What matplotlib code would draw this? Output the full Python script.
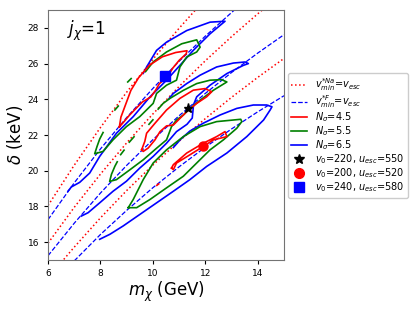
import numpy as np
import matplotlib
matplotlib.use("Agg")
import matplotlib.pyplot as plt

# v_min = v_esc curves (m in GeV, delta in keV)
m_na1 = [6.0, 7.0, 8.0, 9.0, 10.0, 11.0, 11.7]
d_na1 = [18.05, 20.31, 22.42, 24.40, 26.24, 27.98, 29.13]
m_na2 = [6.0, 7.0, 8.0, 9.0, 10.0, 11.0, 12.0, 13.0, 14.0, 14.3]
d_na2 = [15.94, 17.95, 19.81, 21.56, 23.18, 24.72, 26.16, 27.51, 28.79, 29.16]
m_na3 = [6.5, 7.0, 8.0, 9.0, 10.0, 11.0, 12.0, 13.0, 14.0, 15.0]
d_na3 = [14.86, 15.72, 17.36, 18.89, 20.32, 21.66, 22.92, 24.11, 25.23, 26.29]
m_f1 = [6.0, 7.0, 8.0, 9.0, 10.0, 11.0, 12.0, 13.0, 13.2]
d_f1 = [17.26, 19.32, 21.22, 22.98, 24.61, 26.13, 27.54, 28.86, 29.12]
m_f2 = [6.0, 7.0, 8.0, 9.0, 10.0, 11.0, 12.0, 13.0, 14.0, 15.0]
d_f2 = [15.24, 17.06, 18.75, 20.30, 21.74, 23.08, 24.33, 25.50, 26.59, 27.62]
m_f3 = [7.0, 8.0, 9.0, 10.0, 11.0, 12.0, 13.0, 14.0, 15.0]
d_f3 = [14.95, 16.43, 17.78, 19.05, 20.22, 21.32, 22.34, 23.30, 24.20]

# contours (x, y) pairs; square halo = top group, star = middle, circle = bottom
sq_blue = [(9.63, 25.45), (9.76, 25.81), (10.14, 26.74), (10.52, 27.20), (11.29, 27.85),
           (12.18, 28.32), (12.75, 28.37), (12.18, 27.67), (11.54, 26.74), (11.03, 25.90),
           (10.52, 25.07), (9.89, 24.14), (9.25, 23.03), (8.61, 22.10), (7.97, 20.80),
           (7.59, 19.87), (7.21, 19.35), (6.89, 19.09), (6.76, 18.85)]
sq_green = [(9.72, 25.55), (10.01, 26.09), (10.52, 26.65), (11.10, 27.11), (11.67, 27.33),
            (11.80, 26.92), (11.67, 26.65), (11.29, 26.37), (11.03, 25.81), (10.90, 25.07),
            (10.52, 24.79), (10.14, 24.33), (10.01, 23.77), (9.50, 23.03), (8.99, 22.47),
            (8.48, 21.73), (8.10, 21.08), (7.78, 20.95), (7.87, 21.36), (7.97, 21.77),
            (8.10, 22.14)]
sq_green_bits = [[(8.55, 23.40), (8.68, 23.62)], [(9.04, 24.97), (9.17, 25.16)]]
sq_red = [(8.72, 22.45), (8.78, 23.00), (8.97, 23.75), (9.16, 24.50), (9.45, 25.20),
          (9.86, 25.90), (10.36, 26.38), (10.87, 26.62), (11.30, 26.72), (11.27, 26.55),
          (11.00, 26.18), (10.76, 25.75), (10.55, 25.25), (10.25, 24.88), (10.10, 24.50),
          (9.92, 24.13), (9.60, 23.85), (9.35, 23.48), (9.10, 23.10), (8.90, 22.75),
          (8.72, 22.45)]

st_blue = [(10.62, 24.05), (10.78, 24.33), (11.29, 24.88), (11.80, 25.35), (12.43, 25.81),
           (13.07, 26.03), (13.52, 26.09), (13.64, 26.00), (13.45, 25.90), (12.82, 25.44),
           (12.18, 24.79), (11.67, 24.14), (11.55, 23.70), (11.50, 22.95), (11.30, 22.60),
           (10.90, 22.19), (10.52, 21.54), (10.01, 20.80), (9.50, 20.15), (8.99, 19.41),
           (8.48, 18.85), (7.97, 18.20), (7.53, 17.65), (7.27, 17.46)]
st_green = [(10.20, 23.45), (10.39, 23.77), (10.65, 24.05), (11.16, 24.50), (11.67, 24.88),
            (12.18, 25.07), (12.62, 25.10), (12.82, 24.97), (12.31, 24.51), (11.80, 23.95),
            (11.35, 23.40), (11.16, 23.12), (10.90, 22.84), (10.71, 22.47), (10.52, 21.73),
            (10.14, 21.26), (9.63, 20.61), (9.12, 20.05), (8.61, 19.50), (8.35, 19.40),
            (8.42, 19.80), (8.55, 20.25), (8.64, 20.50)]
st_green_bits = [[(8.77, 20.90), (8.90, 21.15)], [(9.10, 21.60), (9.28, 21.90)],
                 [(9.85, 22.60), (10.00, 22.85)]]
st_red = [(9.57, 21.17), (9.69, 21.64), (9.76, 22.10), (10.08, 22.66), (10.52, 23.40),
          (11.03, 24.05), (11.54, 24.51), (11.99, 24.60), (12.24, 24.42), (12.05, 24.14),
          (11.67, 23.77), (11.29, 23.31), (10.97, 22.84), (10.78, 22.56), (10.52, 22.51),
          (10.27, 22.19), (10.08, 21.73), (9.82, 21.27), (9.63, 21.08), (9.57, 21.17)]

ci_blue = [(10.78, 21.30), (11.05, 21.75), (11.41, 22.22), (11.92, 22.66), (12.56, 23.12),
           (13.20, 23.49), (13.83, 23.68), (14.34, 23.68), (14.54, 23.58), (14.47, 23.40),
           (14.22, 22.84), (13.58, 21.91), (12.82, 20.99), (12.05, 20.24), (11.41, 19.50),
           (10.78, 18.85), (10.14, 18.20), (9.50, 17.55), (8.87, 16.91), (8.36, 16.44),
           (7.97, 16.16)]
ci_green = [(9.06, 17.93), (9.38, 17.93), (9.89, 18.39), (10.52, 19.04), (11.16, 19.69),
            (11.80, 20.62), (12.18, 21.17), (12.69, 21.73), (13.20, 22.38), (13.39, 22.75),
            (13.35, 22.88), (13.07, 22.84), (12.43, 22.75), (11.80, 22.47), (11.16, 21.91),
            (10.52, 21.17), (10.01, 20.43), (9.63, 19.50), (9.25, 18.39), (9.06, 17.93)]
ci_red = [(10.71, 20.15), (10.78, 20.34), (11.29, 20.99), (11.92, 21.54), (12.43, 21.91),
          (12.75, 22.19), (12.82, 21.91), (12.31, 21.73), (11.92, 21.36), (11.41, 20.89),
          (10.90, 20.43), (10.78, 20.06), (10.71, 20.15)]
ci_red_bits = [[(10.15, 19.18), (10.22, 19.26)]]

# benchmark points
star_pt = (11.35, 23.52)
circle_pt = (11.91, 21.36)
square_pt = (10.48, 25.32)

fig = plt.figure(figsize=(4.15, 3.09), dpi=100)
ax = fig.add_axes([0.1157, 0.1586, 0.5687, 0.809])

def xy(pts):
    a = np.array(pts)
    return a[:, 0], a[:, 1]

lw_c = 1.2
for mm, dd in [(m_na1, d_na1), (m_na2, d_na2), (m_na3, d_na3)]:
    ax.plot(mm, dd, color="red", ls=":", lw=1.1, zorder=1)
for mm, dd in [(m_f1, d_f1), (m_f2, d_f2), (m_f3, d_f3)]:
    ax.plot(mm, dd, color="blue", ls="--", lw=0.9, zorder=1)

for pts in [sq_blue, st_blue, ci_blue]:
    ax.plot(*xy(pts), color="blue", lw=lw_c, zorder=2)
for pts in [sq_green, st_green, ci_green] + sq_green_bits + st_green_bits:
    ax.plot(*xy(pts), color="green", lw=lw_c, zorder=3)
for pts in [sq_red, st_red, ci_red] + ci_red_bits:
    ax.plot(*xy(pts), color="red", lw=lw_c, zorder=4)

ax.plot(*star_pt, marker="*", color="black", ms=6.5, ls="none", zorder=5)
ax.plot(*circle_pt, marker="o", color="red", ms=6.5, ls="none", zorder=5)
ax.plot(*square_pt, marker="s", color="blue", ms=6.5, ls="none", zorder=5)

# legend proxies
h = [
    ax.plot([], [], color="red", ls=":", lw=1.1, label=r"$v^{*Na}_{min}$=$v_{esc}$")[0],
    ax.plot([], [], color="blue", ls="--", lw=0.9, label=r"$v^{*F}_{min}$=$v_{esc}$")[0],
    ax.plot([], [], color="red", lw=lw_c, label=r"$N_\sigma$=4.5")[0],
    ax.plot([], [], color="green", lw=lw_c, label=r"$N_\sigma$=5.5")[0],
    ax.plot([], [], color="blue", lw=lw_c, label=r"$N_\sigma$=6.5")[0],
    ax.plot([], [], marker="*", color="black", ms=7, ls="none", label=r"$v_0$=220, $u_{esc}$=550")[0],
    ax.plot([], [], marker="o", color="red", ms=7, ls="none", label=r"$v_0$=200, $u_{esc}$=520")[0],
    ax.plot([], [], marker="s", color="blue", ms=7, ls="none", label=r"$v_0$=240, $u_{esc}$=580")[0],
]
ax.legend(handles=h, loc="upper left", bbox_to_anchor=(1.015, 0.748), borderaxespad=0,
          fontsize=7, handlelength=1.7, numpoints=1, framealpha=1, labelspacing=0.02,
          borderpad=0.35)

ax.text(0.08, 0.9, r"$j_\chi$=1", transform=ax.transAxes, fontsize=12)
ax.set_xlim(6, 15)
ax.set_ylim(15, 29)
ax.set_xticks([6, 8, 10, 12, 14])
ax.set_yticks([16, 18, 20, 22, 24, 26, 28])
ax.tick_params(labelsize=6.5, length=3)
ax.set_xlabel(r"$m_\chi$ (GeV)", fontsize=12, labelpad=1)
ax.set_ylabel(r"$\delta$ (keV)", fontsize=12, labelpad=2)
for sp in ax.spines.values():
    sp.set_color("0.45")

fig.savefig("out.png", dpi=100)
